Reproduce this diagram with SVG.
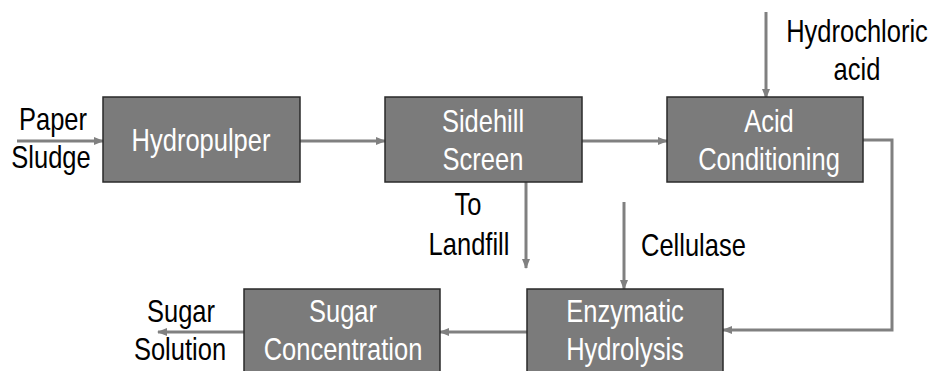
<svg xmlns="http://www.w3.org/2000/svg" width="934" height="371" viewBox="0 0 934 371">
<defs>
<marker id="ah" markerWidth="10" markerHeight="8" refX="9" refY="4" orient="auto" markerUnits="userSpaceOnUse">
<path d="M0,0 L10,4 L0,8 Z" fill="#808080"/>
</marker>
</defs>
<style>
.box{fill:#7b7b7b;stroke:#2a2a2a;stroke-width:1.5}
.bt{font-family:"Liberation Sans",Arial,sans-serif;font-size:25.5px;fill:#ffffff;text-anchor:middle}
.lt{font-family:"Liberation Sans",Arial,sans-serif;font-size:25.5px;fill:#000000}
.c{fill:none;stroke:#808080;stroke-width:3}
</style>
<rect width="934" height="371" fill="#ffffff"/>
<g id="connectors">
<line class="c" x1="17" y1="141" x2="103" y2="141" marker-end="url(#ah)"/>
<line class="c" x1="300" y1="141" x2="385" y2="141" marker-end="url(#ah)"/>
<line class="c" x1="582" y1="141" x2="667" y2="141" marker-end="url(#ah)"/>
<line class="c" x1="766" y1="12" x2="766" y2="98" marker-end="url(#ah)"/>
<line class="c" x1="526" y1="182" x2="526" y2="268" marker-end="url(#ah)"/>
<polyline class="c" points="863,140 892,140 892,330 723,330" marker-end="url(#ah)"/>
<line class="c" x1="624" y1="202" x2="624" y2="289" marker-end="url(#ah)"/>
<line class="c" x1="527" y1="332" x2="440" y2="332" marker-end="url(#ah)"/>
<line class="c" x1="244" y1="332" x2="158" y2="332" marker-end="url(#ah)"/>
</g>
<g id="hydropulper">
<rect class="box" x="103" y="97" width="197" height="85"/>
<text class="bt" transform="translate(201,151) scale(1,1.24)">Hydropulper</text>
</g>
<g id="sidehill">
<rect class="box" x="385" y="97" width="197" height="85"/>
<text class="bt" transform="translate(483,132) scale(1,1.24)">Sidehill</text>
<text class="bt" transform="translate(483,170) scale(1,1.24)">Screen</text>
</g>
<g id="acid">
<rect class="box" x="667" y="97" width="196" height="85"/>
<text class="bt" transform="translate(769,132) scale(1,1.24)">Acid</text>
<text class="bt" transform="translate(769,170) scale(1,1.24)">Conditioning</text>
</g>
<g id="enzymatic">
<rect class="box" x="527" y="289" width="196" height="90"/>
<text class="bt" transform="translate(625,322) scale(1,1.24)">Enzymatic</text>
<text class="bt" transform="translate(625,360) scale(1,1.24)">Hydrolysis</text>
</g>
<g id="sugarconc">
<rect class="box" x="244" y="289" width="196" height="90"/>
<text class="bt" transform="translate(343,322) scale(1,1.24)">Sugar</text>
<text class="bt" transform="translate(343,360) scale(1,1.24)">Concentration</text>
</g>
<g id="labels">
<text class="lt" text-anchor="middle" transform="translate(53,130) scale(1,1.24)">Paper</text>
<text class="lt" text-anchor="middle" transform="translate(51,168) scale(1,1.24)">Sludge</text>
<text class="lt" text-anchor="middle" transform="translate(857,42) scale(1,1.24)">Hydrochloric</text>
<text class="lt" text-anchor="middle" transform="translate(857,80) scale(1,1.24)">acid</text>
<text class="lt" text-anchor="middle" transform="translate(468,215) scale(1,1.24)">To</text>
<text class="lt" text-anchor="middle" transform="translate(469,255) scale(1,1.24)">Landfill</text>
<text class="lt" transform="translate(641,256) scale(1,1.24)">Cellulase</text>
<text class="lt" text-anchor="middle" transform="translate(181,322) scale(1,1.24)">Sugar</text>
<text class="lt" text-anchor="middle" transform="translate(180,360) scale(1,1.24)">Solution</text>
</g>
</svg>
